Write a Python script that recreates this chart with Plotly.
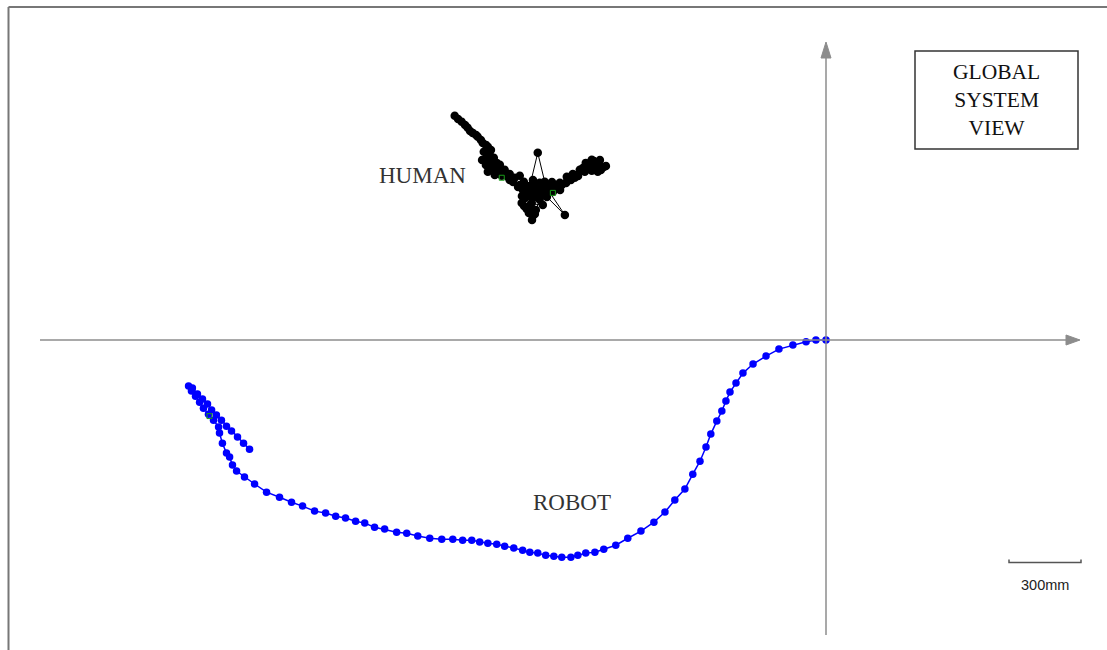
import plotly.graph_objects as go

# Robot trajectory in the global frame (mm), starting at the origin
robot_x = [0, -42, -83, -138, -196, -250, -304, -346, -375, -400, -417, -434, -455, -480,
           -500, -525, -555, -588, -630, -671, -717, -771, -826, -876, -926, -963, -1001,
           -1034, -1063, -1101, -1134, -1168, -1201, -1234, -1264, -1301, -1339, -1372,
           -1409, -1443, -1476, -1514, -1555, -1601, -1651, -1701, -1747, -1789, -1839,
           -1881, -1922, -1960, -2002, -2043, -2085, -2131, -2181, -2227, -2277, -2331,
           -2381, -2423, -2456, -2473, -2485, -2498, -2515, -2527, -2531, -2552, -2573,
           -2594, -2610, -2627, -2644, -2656, -2640, -2619, -2598, -2577, -2560, -2540,
           -2519, -2498, -2477, -2452, -2427, -2402]
robot_y = [0, 0, -7, -21, -38, -67, -100, -138, -179, -217, -254, -296, -338, -392,
           -446, -505, -559, -621, -667, -717, -759, -796, -826, -855, -872, -884, -888,
           -897, -905, -905, -901, -897, -888, -884, -876, -867, -859, -851,
           -847, -842, -834, -834, -830, -830, -826, -817, -805, -801, -788,
           -780, -763, -755, -742, -734, -721, -713, -692, -676, -655, -634,
           -600, -571, -546, -521, -488, -471, -430, -388, -363, -334, -309,
           -284, -259, -234, -213, -192, -200, -225, -246, -267, -292, -313,
           -334, -359, -379, -404, -430, -455]

# Human position track (mm)
human_x = [-1547, -1518, -1493, -1472, -1451, -1430, -1409, -1426, -1401, -1384, -1372,
           -1393, -1409, -1380, -1359, -1339, -1318, -1297, -1276, -1259, -1234, -1201,
           -1172, -1213, -1243, -1226, -1247, -1222, -1209, -1193, -1172, -1088, -1159,
           -1130, -1109, -1080, -1055, -1026, -1001, -976, -951, -926, -951, -976, -1005,
           -1047, -1101, -1151, -1193, -1234, -1276, -1318, -1351, -1368, -1255, -1201,
           -1180, -1268, -1234,
           -1533, -1504, -1483, -1458, -1438, -1417, -1396, -1413, -1433, -1417, -1396,
           -1375, -1346, -1325, -1304, -1283, -1263, -1246, -1221, -1204, -1183, -1163,
           -1142, -1121, -1138, -1163, -1188, -1208, -1229, -1254, -1233, -1213, -1225,
           -1238, -1258, -1267, -1108, -1083, -1063, -1038, -1013, -988, -963, -938,
           -917, -942, -967, -992, -1033]
human_y = [934, 909, 884, 863, 847, 821, 805, 784, 771, 759, 738,
           717, 701, 688, 730, 709, 692, 676, 684, 659, 642, 780,
           659, 626, 600, 571, 546, 517, 542, 584, 605, 521, 626,
           634, 655, 680, 692, 709, 738, 751, 738, 721, 701, 705, 701,
           676, 646, 638, 655, 626, 646, 667, 684, 709, 617, 617,
           563, 571, 600,
           921, 896, 871, 854, 833, 813, 792, 763, 750, 729, 738,
           717, 700, 679, 658, 638, 625, 642, 667, 646, 633, 646,
           658, 642, 617, 596, 617, 596, 613, 592, 554, 525, 500,
           529, 558, 600, 625, 654, 667, 688, 717, 729, 725, 708,
           725, 750, 746, 717, 683]

# Sensor detections shown in green
sensor_x = [-1351, -1138, -2569]
sensor_y = [676, 613, -317]

SCALE_BAR_MM = 300
MM_PER_PX = 300 / 72.0
W, H = 1107, 650
ORIGIN_PX = (826, 340)

x_range = [-ORIGIN_PX[0] * MM_PER_PX, (W - ORIGIN_PX[0]) * MM_PER_PX]
y_range = [-(H - ORIGIN_PX[1]) * MM_PER_PX, ORIGIN_PX[1] * MM_PER_PX]

fig = go.Figure()

fig.add_trace(go.Scatter(
    x=human_x, y=human_y, mode="lines+markers",
    line=dict(color="black", width=1),
    marker=dict(color="black", size=8.5),
    hoverinfo="skip", showlegend=False))

fig.add_trace(go.Scatter(
    x=robot_x, y=robot_y, mode="lines+markers",
    line=dict(color="#0000ff", width=1.5),
    marker=dict(color="#0000ff", size=7.5),
    hoverinfo="skip", showlegend=False))

fig.add_trace(go.Scatter(
    x=sensor_x, y=sensor_y, mode="markers",
    marker=dict(color="#1a9a1a", size=5, symbol="square-open", line=dict(width=1)),
    hoverinfo="skip", showlegend=False))

axis_col = "#8c8c8c"
px = MM_PER_PX
shapes = []
# global coordinate axes
shapes.append(dict(type="line", xref="x", yref="y", x0=-786 * px, x1=242 * px, y0=0, y1=0,
                   line=dict(color=axis_col, width=1.5)))
shapes.append(dict(type="line", xref="x", yref="y", x0=0, x1=0, y0=-295 * px, y1=284 * px,
                   line=dict(color=axis_col, width=1.5)))
# arrowheads
shapes.append(dict(type="path", xref="x", yref="y",
                   path=f"M {240*px} {5*px} L {254*px} 0 L {240*px} {-5*px} Z",
                   fillcolor=axis_col, line=dict(color=axis_col, width=1)))
shapes.append(dict(type="path", xref="x", yref="y",
                   path=f"M {-5*px} {282*px} L 0 {298*px} L {5*px} {282*px} Z",
                   fillcolor=axis_col, line=dict(color=axis_col, width=1)))
# scale bar
sb_x0 = 183 * px
sb_y = -222.5 * px
shapes.append(dict(type="path", xref="x", yref="y",
                   path=(f"M {sb_x0} {sb_y + 3*px} L {sb_x0} {sb_y} "
                         f"L {sb_x0 + SCALE_BAR_MM} {sb_y} L {sb_x0 + SCALE_BAR_MM} {sb_y + 3*px}"),
                   line=dict(color="#555555", width=1.5)))
# frame edges
shapes.append(dict(type="line", xref="paper", yref="paper", x0=8.5 / W, x1=1, y0=1 - 7 / H, y1=1 - 7 / H,
                   line=dict(color="#777777", width=2)))
shapes.append(dict(type="line", xref="paper", yref="paper", x0=8.5 / W, x1=8.5 / W, y0=1 - 7 / H, y1=0,
                   line=dict(color="#777777", width=2)))
# title box
shapes.append(dict(type="rect", xref="paper", yref="paper", x0=915 / W, x1=1078 / W,
                   y0=1 - 149 / H, y1=1 - 51 / H, line=dict(color="#333333", width=1.5),
                   fillcolor="white"))

serif = "Liberation Serif, Times New Roman, serif"
annotations = [
    dict(text="GLOBAL<br>SYSTEM<br>VIEW", xref="paper", yref="paper", x=996.5 / W, y=1 - 100 / H,
         showarrow=False, font=dict(family=serif, size=21.5, color="#111111"),
         xanchor="center", yanchor="middle", align="center"),
    dict(text="HUMAN", xref="x", yref="y", x=(422 - 826) * px, y=(340 - 175) * px,
         showarrow=False, font=dict(family=serif, size=23, color="#333333"),
         xanchor="center", yanchor="middle"),
    dict(text="ROBOT", xref="x", yref="y", x=(571.5 - 826) * px, y=(340 - 502) * px,
         showarrow=False, font=dict(family=serif, size=23, color="#333333"),
         xanchor="center", yanchor="middle"),
    dict(text=f"{SCALE_BAR_MM}mm", xref="x", yref="y", x=sb_x0 + SCALE_BAR_MM / 2, y=(340 - 585) * px,
         showarrow=False, font=dict(family="Liberation Sans, Arial, sans-serif", size=14.5, color="#222222"),
         xanchor="center", yanchor="middle"),
]

fig.update_layout(
    width=W, height=H,
    margin=dict(l=0, r=0, t=0, b=0),
    paper_bgcolor="white", plot_bgcolor="white",
    xaxis=dict(range=x_range, visible=False, fixedrange=True),
    yaxis=dict(range=y_range, visible=False, fixedrange=True),
    shapes=shapes, annotations=annotations,
)

fig.write_html("out.html", config={"displayModeBar": False})
